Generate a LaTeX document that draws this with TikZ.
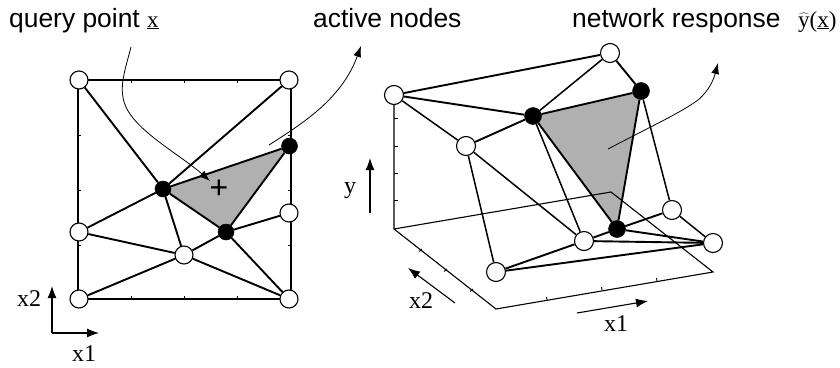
\documentclass[tikz,border=0pt]{standalone}
\usepackage{fontspec}
\setmainfont{Liberation Serif}
\newfontfamily\hv{Liberation Sans}
\usetikzlibrary{arrows.meta}
\pgfdeclarelayer{back}
\pgfsetlayers{back,main}
\tikzset{
  x=1pt,y=-1pt,
  open/.style={circle,draw=black,line width=1.1pt,fill=white,minimum size=18pt,inner sep=0pt},
  openr/.style={open,minimum size=19pt},
  act/.style={circle,fill=black,draw=black,line width=.5pt,minimum size=16pt,inner sep=0pt},
  edge/.style={line width=1.9pt,black},
  thinedge/.style={line width=1.5pt,black},
  frameline/.style={line width=1.6pt,black},
  floorline/.style={line width=1.1pt,black},
  tick/.style={line width=.9pt,black},
  lead/.style={line width=.8pt,black},
  tiparrow/.style={-{Latex[length=11pt,width=8pt]}},
  axisarrow/.style={line width=1.1pt,black,-{Latex[length=12pt,width=9pt]}},
  title/.style={anchor=base west,inner sep=0pt,font=\hv\fontsize{26.4}{30}\selectfont},
  serif/.style={anchor=base,inner sep=0pt,font=\fontsize{24}{28}\selectfont},
  math/.style={anchor=base west,inner sep=0pt,font=\fontsize{23}{28}\selectfont},
  graytri/.style={fill=black!31}
}
\begin{document}
\begin{tikzpicture}
\useasboundingbox (0,0) rectangle (840,367);
% titles
\node[title] (t1) at (9,27) {query point};
\node[math] (t1x) at (147,27) {\underline{x}};
\node[title] (t2) at (313,27) {active nodes};
\node[title] (t3) at (572,27) {network response};
\node[math] (t3y) at (798,27) {$\widehat{\hbox{y}}$(\underline{x})};
% left mesh
\node[open] (TL) at (79,80) {};
\node[open] (TR) at (289,80) {};
\node[open] (BL) at (79,299) {};
\node[open] (BR) at (289,299) {};
\node[open] (ML) at (79,232) {};
\node[open] (MR) at (289,213) {};
\node[open] (CM) at (184,255) {};
\node[act] (A) at (163,189) {};
\node[act] (B) at (289.5,146) {};
\node[act] (C) at (226,232) {};
\begin{pgfonlayer}{back}
\fill[graytri] (A.center) -- (B.center) -- (C.center) -- cycle;
\draw[frameline] (78,80) -- (291,80) -- (291,299) -- (78,299) -- cycle;
\foreach \t in {131,184,237} {
  \draw[tick] (\t,80) -- (\t,82.5);
  \draw[tick] (\t,299) -- (\t,296);
}
\foreach \t in {135,190,245} {
  \draw[tick] (78,\t) -- (81,\t);
  \draw[tick] (291,\t) -- (288,\t);
}
\end{pgfonlayer}
\foreach \a/\b in {TL/A,TR/A,A/B,B/C,A/C,A/ML,A/CM,ML/CM,BL/CM,CM/C,C/MR,C/BR,CM/BR}
  \draw[edge] (\a) -- (\b);
\draw[edge] (BL) -- (BR);
\node[anchor=center,inner sep=0pt,font=\hv\fontsize{32}{32}\selectfont] (plus) at (219,189) {+};
% left leaders
\coordinate (q0) at (131,47);
\coordinate (q1) at (210,181);
\draw[lead,tiparrow] (q0) .. controls (124,74) and (116,94) .. (130,114) .. controls (145,136) and (184,158) .. (q1);
\coordinate (a0) at (269,145);
\coordinate (a1) at (361,46);
\draw[lead,tiparrow] (a0) .. controls (305,122) and (342,98) .. (a1);
% left axes
\coordinate (lo) at (52,333);
\coordinate (lx) at (99,333);
\coordinate (ly) at (52,286);
\draw[axisarrow] (lo) -- (ly);
\draw[axisarrow] (lo) -- (lx);
\node[serif] (lx2) at (29,306) {x2};
\node[serif] (lx1) at (84,361) {x1};
% right mesh
\node[openr] (P1) at (394,95) {};
\node[openr] (P2) at (610,53) {};
\node[openr] (P3) at (466,146) {};
\node[openr] (P4) at (672,210) {};
\node[openr] (P5) at (713,243) {};
\node[openr] (P6) at (584,241) {};
\node[openr] (P7) at (496,272) {};
\node[act,minimum size=17pt] (D) at (533,116) {};
\node[act,minimum size=17pt] (E) at (641,91) {};
\node[act,minimum size=17pt] (F) at (617,229) {};
\coordinate (O) at (394,229);
\coordinate (FR) at (496,309);
\coordinate (RT) at (713,272);
\coordinate (BK) at (611,192);
\begin{pgfonlayer}{back}
\fill[graytri] (D.center) -- (E.center) -- (F.center) -- cycle;
\draw[floorline] (P1.center) -- (O) -- (FR) -- (RT) -- (BK) -- (O);
\foreach \t in {118,146,173,200}
  \draw[tick] (394,\t) -- (398,\t);
\foreach \x/\y in {422/249,447/269,473/289}
  \draw[tick] (\x,\y) -- (\x-3,\y+2.5);
\foreach \x/\y in {547/300,602/290,657/281}
  \draw[tick] (\x,\y) -- (\x-.5,\y-3);
\end{pgfonlayer}
\foreach \a/\b in {P1/P2,P1/D,P3/D,P2/E,D/E,D/F,E/F,F/P4,F/P6,P7/P5,P6/P5,F/P5,P7/P6}
  \draw[edge] (\a) -- (\b);
\foreach \a/\b in {P1/P3,P2/D,D/P6,P3/P7,P3/P6,E/P4,P4/P5}
  \draw[thinedge] (\a) -- (\b);
% right leader
\coordinate (n0) at (608,149);
\coordinate (n1) at (718,63);
\draw[lead,tiparrow] (n0) .. controls (650,127) and (682,112) .. (698,100) .. controls (710,90) and (714,78) .. (n1);
% right axes
\coordinate (ry0) at (370,213);
\coordinate (ry1) at (370,158);
\draw[axisarrow] (ry0) -- (ry1);
\node[serif] (ry) at (350,193) {y};
\coordinate (rx20) at (455,303);
\coordinate (rx21) at (408,268);
\draw[axisarrow] (rx20) -- (rx21);
\node[serif] (rx2) at (421,308) {x2};
\coordinate (rx10) at (577,313);
\coordinate (rx11) at (648,301);
\draw[axisarrow] (rx10) -- (rx11);
\node[serif] (rx1) at (616,331) {x1};
\end{tikzpicture}
\end{document}
